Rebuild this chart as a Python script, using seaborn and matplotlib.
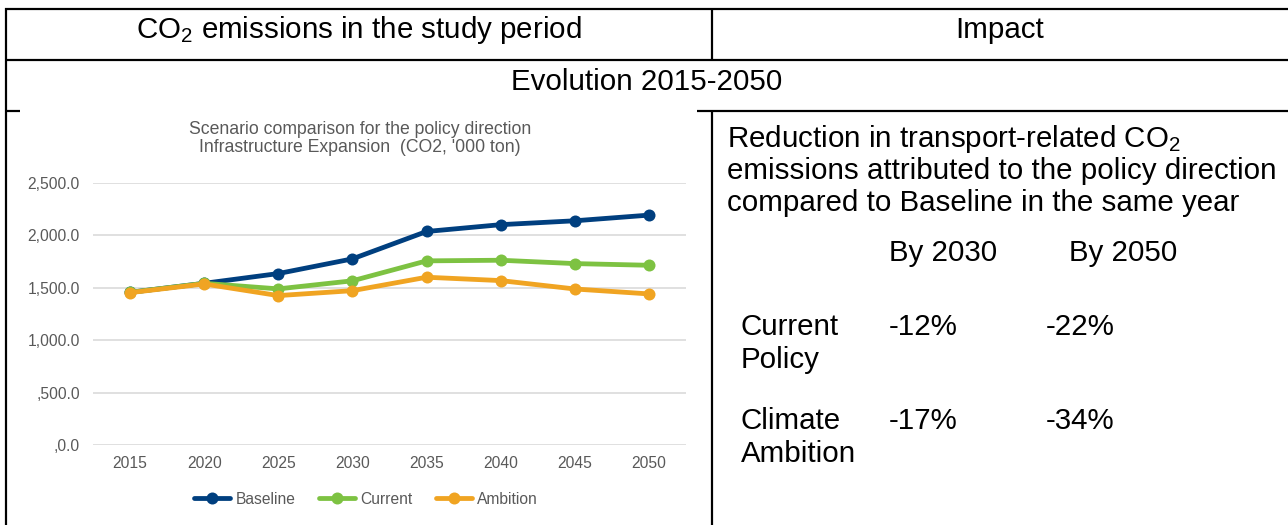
import matplotlib
matplotlib.use("Agg")
import matplotlib.pyplot as plt
from matplotlib.lines import Line2D
import seaborn as sns
import pandas as pd

# Emissions by scenario ('000 ton CO2)
years = [2015, 2020, 2025, 2030, 2035, 2040, 2045, 2050]
baseline = [1455, 1541, 1634, 1774, 2035, 2100, 2137, 2191]
current = [1455, 1541, 1488, 1565, 1755, 1761, 1729, 1713]
ambition = [1452, 1535, 1424, 1471, 1599, 1567, 1487, 1440]
scenarios = ["Baseline", "Current", "Ambition"]
colors = {"Baseline": "#003f7f", "Current": "#7dc242", "Ambition": "#f0a422"}
y_ticks = [0, 500, 1000, 1500, 2000, 2500]

chart_title = ["Scenario comparison for the policy direction",
               "Infrastructure Expansion  (CO2, '000 ton)"]

sns.set_style("white")
plt.rcParams["font.family"] = ["Liberation Sans", "DejaVu Sans"]
plt.rcParams["text.color"] = "black"
plt.rcParams["mathtext.fontset"] = "custom"
plt.rcParams["mathtext.rm"] = "Liberation Sans"
plt.rcParams["mathtext.it"] = "Liberation Sans:italic"
plt.rcParams["mathtext.bf"] = "Liberation Sans:bold"

W, H = 1288, 525
fig = plt.figure(figsize=(W / 100, H / 100), dpi=100)
fig.patch.set_facecolor("white")


def fx(x):
    return x / W


def fy(y):
    return 1 - y / H


PX = 72 / 100  # points per pixel

# ---- table grid ----
def hline(y, x0, x1):
    fig.add_artist(Line2D([fx(x0), fx(x1)], [fy(y), fy(y)], color="black",
                          lw=2.2 * PX, solid_capstyle="butt"))


def vline(x, y0, y1):
    fig.add_artist(Line2D([fx(x), fx(x)], [fy(y0), fy(y1)], color="black",
                          lw=2.2 * PX, solid_capstyle="butt"))


hline(9, 5, W)
hline(60, 5, W)
hline(111, 5, 20)
hline(111, 697, W)
vline(6, 8, H)
vline(712, 8, 60)
vline(712, 111, H)

# ---- table text ----
big = 29.5 * PX
ink = "black"
fig.text(fx(359), fy(38), r"CO$_\mathregular{2}$ emissions in the study period",
         ha="center", va="baseline", fontsize=big, color=ink)
fig.text(fx(1000), fy(38), "Impact", ha="center", va="baseline", fontsize=big,
         color=ink)
fig.text(fx(647), fy(90), "Evolution 2015-2050", ha="center", va="baseline",
         fontsize=big, color=ink)

desc = [r"Reduction in transport-related CO$_\mathregular{2}$",
        "emissions attributed to the policy direction",
        "compared to Baseline in the same year"]
for i, line in enumerate(desc):
    fig.text(fx(727), fy(147 + 32 * i), line, ha="left", va="baseline",
             fontsize=big, color=ink)

fig.text(fx(889), fy(261), "By 2030", ha="left", va="baseline", fontsize=big, color=ink)
fig.text(fx(1069), fy(261), "By 2050", ha="left", va="baseline", fontsize=big, color=ink)

i2030 = years.index(2030)
i2050 = years.index(2050)
rows = [(["Current", "Policy"], current, 335), (["Climate", "Ambition"], ambition, 429)]
for label_lines, series, yb in rows:
    fig.text(fx(741), fy(yb), label_lines[0], ha="left", va="baseline",
             fontsize=big, color=ink)
    fig.text(fx(741), fy(yb + 33), label_lines[1], ha="left", va="baseline",
             fontsize=big, color=ink)
    r30 = round((series[i2030] / baseline[i2030] - 1) * 100)
    r50 = round((series[i2050] / baseline[i2050] - 1) * 100)
    fig.text(fx(889), fy(yb), f"{r30}%", ha="left", va="baseline", fontsize=big,
             color=ink)
    fig.text(fx(1046), fy(yb), f"{r50}%", ha="left", va="baseline", fontsize=big,
             color=ink)

# ---- chart ----
df = pd.DataFrame({
    "year": years * 3,
    "value": baseline + current + ambition,
    "scenario": ["Baseline"] * len(years) + ["Current"] * len(years) + ["Ambition"] * len(years),
})

LW = 4.8 * PX
MS = 12 * PX

ax = fig.add_axes([fx(93), fy(445), (686 - 93) / W, (445 - 182.7) / H])
ax.set_facecolor("white")
sns.lineplot(data=df, x="year", y="value", hue="scenario", hue_order=scenarios,
             palette=colors, marker="o", markersize=MS, markeredgewidth=0,
             linewidth=LW, ax=ax, legend=False, zorder=3)
ax.set_xlim(2012.5, 2052.5)
ax.set_ylim(0, 2500)
ax.set_xticks(years)
ax.set_yticks(y_ticks)

grey = "#595959"
small = 15.6 * PX
ax.set_xticklabels([str(y) for y in years], fontsize=small, color=grey)


def fmt(v):
    s = f"{v:,.1f}"
    return "," + s if v < 1000 else s


ax.set_yticklabels([fmt(v) for v in y_ticks], fontsize=small, color=grey)
ax.tick_params(axis="both", length=0)
ax.tick_params(axis="x", pad=11 * PX)
ax.tick_params(axis="y", pad=13 * PX)
ax.set_xlabel("")
ax.set_ylabel("")
for s in ax.spines.values():
    s.set_visible(False)
ax.yaxis.grid(True, color="#d9d9d9", lw=1.6 * PX, zorder=0)
ax.set_axisbelow(True)

title_fs = 17.6 * PX
fig.text(fx(360), fy(134), chart_title[0], ha="center", va="baseline",
         fontsize=title_fs, color=grey)
fig.text(fx(360), fy(152), chart_title[1], ha="center", va="baseline",
         fontsize=title_fs, color=grey)

handles = [Line2D([], [], color=colors[s], lw=LW, marker="o",
                  markersize=MS, markeredgewidth=0) for s in scenarios]
fig.legend(handles, scenarios, loc="center", bbox_to_anchor=(fx(366), fy(499)),
           ncol=3, frameon=False, fontsize=small, handlelength=2.3,
           handletextpad=0.35, columnspacing=1.5, labelcolor=grey)

fig.savefig("out.png", dpi=100, facecolor="white")
